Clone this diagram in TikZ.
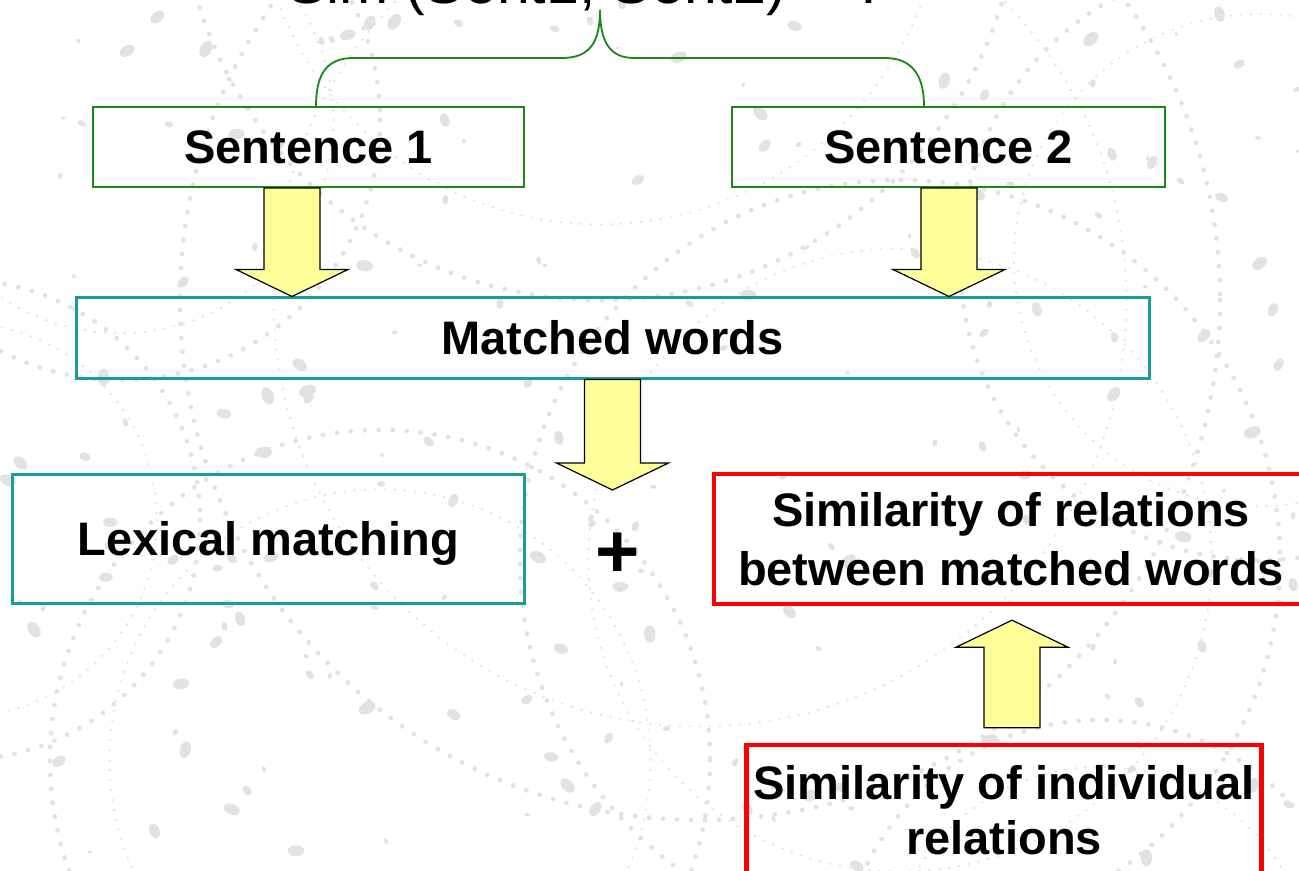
\documentclass[tikz,border=0pt]{standalone}
\usepackage{fontspec}
\setmainfont{Liberation Sans}
\usetikzlibrary{calc}

\definecolor{boxgreen}{RGB}{24,136,24}
\definecolor{boxteal}{RGB}{26,156,152}
\definecolor{boxred}{RGB}{255,0,0}
\definecolor{arrowfill}{RGB}{255,255,153}
\definecolor{speck}{RGB}{226,226,226}

% wide yellow block arrow from a tail point (#1) to a tip point (#2), vertical
\newcommand\blockarrow[2]{%
  \path[blockarr] let \p1=(#1), \p2=(#2), \n1={ifthenelse(\y1>\y2,1,-1)} in
    (\x1-14pt,\y1) -- (\x1-14pt,\y2+\n1*13.5pt) -- (\x1-28pt,\y2+\n1*13.5pt)
    -- (\x1,\y2) -- (\x1+28pt,\y2+\n1*13.5pt) -- (\x1+14pt,\y2+\n1*13.5pt)
    -- (\x1+14pt,\y1) -- cycle;}

\begin{document}
\begin{tikzpicture}[x=0.5pt,y=-0.5pt,
  box/.style={draw, rectangle, inner sep=0pt,
    font=\fontsize{23.5}{28}\selectfont\bfseries},
  onebox/.style={box, text height=16.8pt, text depth=0pt},
  sentbox/.style={onebox, draw=boxgreen, line width=1pt, minimum height=40pt},
  tealbox/.style={onebox, draw=boxteal, line width=1.5pt},
  redbox/.style={box, align=center, draw=boxred, line width=2.2pt},
  blockarr/.style={draw=black, fill=arrowfill, line width=0.6pt, line join=miter},
  brace/.style={draw=boxgreen, line width=0.9pt},
]
\useasboundingbox (0,0) rectangle (1299,871);
\clip (0,0) rectangle (1299,871);
\fill[white] (0,0) rectangle (1299,871);

% faint lace texture in the background
\begin{scope}[speck, line cap=round]
  \foreach \cx/\cy/\r in {120/120/260, 600/-120/420, 1260/260/300, 380/760/330,
                          900/560/380, -40/520/240, 1100/980/260, 700/300/520}{
    \draw[line width=2.4pt, dash pattern=on 0pt off 7pt] (\cx,\cy) circle (\r);
    \draw[line width=1.3pt, dash pattern=on 0pt off 5pt] (\cx,\cy) circle (\r*0.82);
  }
  \pgfmathsetseed{4242}
  \foreach \i in {1,...,190}{
    \pgfmathsetmacro\sx{rnd*1299}
    \pgfmathsetmacro\sy{rnd*871}
    \pgfmathsetmacro\sr{2+rnd*7}
    \pgfmathsetmacro\sa{rnd*180}
    \fill[rotate around={\sa:(\sx,\sy)}] (\sx,\sy) ellipse ({\sr*0.5pt} and {\sr*0.33pt});
  }
\end{scope}

% heading, partly cut by the top edge
\node[anchor=base west, inner sep=0pt, font=\fontsize{29.5}{30}\selectfont]
  (title) at (287,4) {Sim (Sent1, Sent2) = ?};
\coordinate (bt) at (600,10);

% boxes
\node[sentbox, minimum width=215.5pt] (s1) at (308.5,147) {Sentence 1};
\node[sentbox, minimum width=216.5pt] (s2) at (948.5,147) {Sentence 2};
\node[tealbox, minimum width=536.5pt, minimum height=40pt] (mw) at (612.5,338) {Matched words};
\node[tealbox, minimum width=256pt, minimum height=64.5pt] (lex) at (268.5,538.5) {Lexical matching};
\node[font=\fontsize{38}{38}\selectfont\bfseries, inner sep=0pt] (plus) at (618,555) {+};
\node[redbox, minimum width=297pt, minimum height=65pt, font=\fontsize{23.5}{29.5}\selectfont\bfseries]
  (simrel) at (1011,539) {Similarity of relations\\between matched words};
\node[redbox, minimum width=257.5pt, minimum height=65.5pt, font=\fontsize{23.5}{27.5}\selectfont\bfseries]
  (simind) at (1004,810.5) {Similarity of individual\\relations};

% brace joining both sentences to the heading
\draw[brace] (s1.north -| 316,0) .. controls (316,74) and (327,58) .. (353,58)
  -- (562,58) .. controls (590,58) and (600,42) .. (bt);
\draw[brace] (s2.north -| 924,0) .. controls (924,74) and (911,58) .. (885,58)
  -- (634,58) .. controls (610,58) and (600,42) .. (bt);

% block arrows
\coordinate (mwout) at (612.5,490);
\blockarrow{s1.south -| 292,0}{mw.north -| 292,0}
\blockarrow{s2.south -| 949,0}{mw.north -| 949,0}
\blockarrow{mw.south -| 612.5,0}{mwout}
\blockarrow{$(simind.north -| 1012,0)+(0,-15)$}{$(simrel.south -| 1012,0)+(0,14)$}
\end{tikzpicture}
\end{document}
